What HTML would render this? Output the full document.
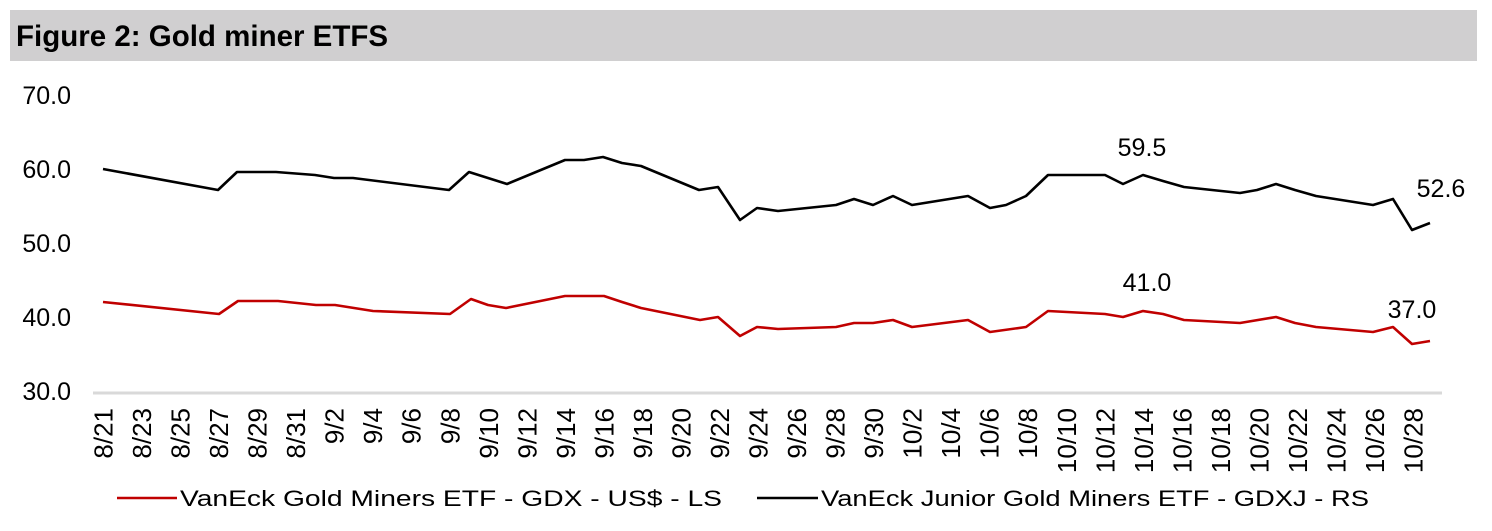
<!DOCTYPE html>
<html><head><meta charset="utf-8"><style>
html,body{margin:0;padding:0;background:#fff;}
svg{display:block;font-family:"Liberation Sans",Arial,sans-serif;}
</style></head><body>
<svg width="1492" height="531" viewBox="0 0 1492 531" xmlns="http://www.w3.org/2000/svg">
<rect x="10" y="10" width="1467" height="51" fill="#d0cfd0"/>
<text x="16" y="46" font-size="29.5" font-weight="bold" fill="#000">Figure 2: Gold miner ETFS</text>
<g font-size="25" fill="#000" text-anchor="end">
<text x="71" y="104">70.0</text>
<text x="71" y="178">60.0</text>
<text x="71" y="252">50.0</text>
<text x="71" y="326">40.0</text>
<text x="71" y="400">30.0</text>
</g>
<line x1="93" y1="393" x2="1442" y2="393" stroke="#d9d9d9" stroke-width="3"/>
<polyline fill="none" stroke="#000" stroke-width="2.6" stroke-linejoin="round" points="103,169 218,190 237,172 276,172 315,175 334,178 353,178 449,190 469,172 507,184 565,160 584,160 603,157 622,163 641,166 699,190 718,187 740,220 757,208 778,211 836,205 854,199 873,205 893,196 912,205 968,196 990,208 1006,205 1026,196 1048,175 1105,175 1123,184 1143,175 1163,181 1184,187 1240,193 1257,190 1276,184 1295,190 1316,196 1373,205 1393,199 1412,230 1430,223"/>
<polyline fill="none" stroke="#c00000" stroke-width="2.6" stroke-linejoin="round" points="103,302 219,314 238,301 278,301 316,305 335,305 373,311 450,314 471,299 488,305 506,308 565,296 604,296 622,302 641,308 700,320 718,317 740,336 757,327 778,329 836,327 854,323 873,323 893,320 912,327 968,320 990,332 1026,327 1048,311 1105,314 1123,317 1143,311 1163,314 1184,320 1240,323 1276,317 1295,323 1316,327 1373,332 1393,327 1412,344 1430,341"/>
<g font-size="25" fill="#000" text-anchor="middle">
<text x="1142" y="156">59.5</text>
<text x="1147" y="291">41.0</text>
<text x="1441" y="197">52.6</text>
<text x="1412" y="318">37.0</text>
</g>
<g id="xl" font-size="26" fill="#000" text-anchor="end"></g>
<line x1="117" y1="498" x2="177" y2="498" stroke="#c00000" stroke-width="2.6"/>
<text x="180" y="506" font-size="22" textLength="542" lengthAdjust="spacingAndGlyphs">VanEck Gold Miners ETF  - GDX  - US$ - LS</text>
<line x1="757" y1="498" x2="818" y2="498" stroke="#000" stroke-width="2.6"/>
<text x="821" y="506" font-size="22" textLength="548" lengthAdjust="spacingAndGlyphs">VanEck Junior Gold Miners ETF - GDXJ - RS</text>
</svg>
<script>
(function(){
var labels=[];
var i;
for(i=21;i<=31;i+=2)labels.push("8/"+i);
for(i=2;i<=30;i+=2)labels.push("9/"+i);
for(i=2;i<=28;i+=2)labels.push("10/"+i);
var g=document.getElementById("xl");
labels.forEach(function(l,k){
var x=103+k*38.53;
var t=document.createElementNS("http://www.w3.org/2000/svg","text");
t.setAttribute("transform","translate("+(x+9.5)+",408) rotate(-90)");
t.setAttribute("x","0");t.setAttribute("y","0");
t.textContent=l;
g.appendChild(t);
});
})();
</script>
</body></html>
